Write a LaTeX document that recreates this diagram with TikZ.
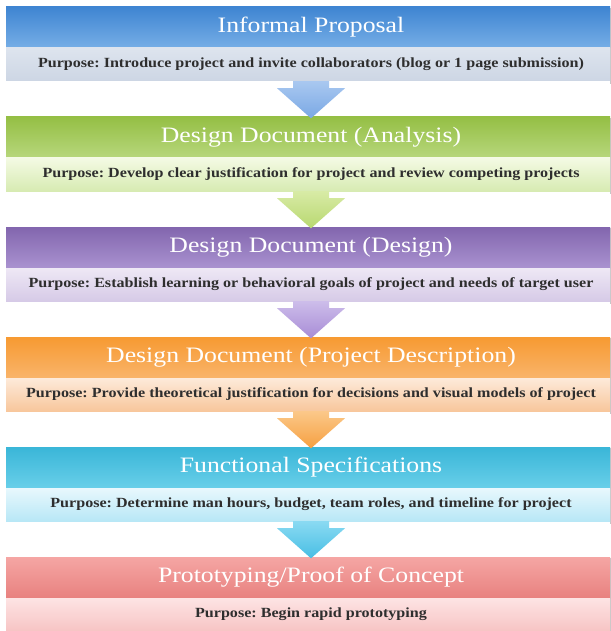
\documentclass[tikz,border=0pt]{standalone}
\usepackage{fontspec}
\setmainfont{Liberation Serif}
\newfontfamily\titlefont[FakeStretch=1.17]{Liberation Serif}
\newfontfamily\purpfont[FakeStretch=1.15]{Liberation Serif}
\usetikzlibrary{calc,backgrounds}
\frenchspacing

\definecolor{bluetop}{HTML}{3F85D2}\definecolor{bluebot}{HTML}{76AEE6}
\definecolor{bluept}{HTML}{DDE4EE}\definecolor{bluepb}{HTML}{CDD6E4}
\definecolor{blueat}{HTML}{A9C8F0}\definecolor{blueab}{HTML}{7AA8E4}
\definecolor{grntop}{HTML}{95BF45}\definecolor{grnbot}{HTML}{B7D77C}
\definecolor{grnpt}{HTML}{F4FAE4}\definecolor{grnpb}{HTML}{D7EBB2}
\definecolor{grnat}{HTML}{D8EBA6}\definecolor{grnab}{HTML}{B8D870}
\definecolor{purtop}{HTML}{8266AE}\definecolor{purbot}{HTML}{AA92D0}
\definecolor{purpt}{HTML}{EEE8F5}\definecolor{purpb}{HTML}{D6CAE7}
\definecolor{purat}{HTML}{CDBDEA}\definecolor{purab}{HTML}{A88CD6}
\definecolor{orgtop}{HTML}{F79A32}\definecolor{orgbot}{HTML}{F9B46A}
\definecolor{orgpt}{HTML}{FDEADA}\definecolor{orgpb}{HTML}{F8C79C}
\definecolor{orgat}{HTML}{FBC88A}\definecolor{orgab}{HTML}{F6A040}
\definecolor{cyntop}{HTML}{3AB6D8}\definecolor{cynbot}{HTML}{68CFE9}
\definecolor{cynpt}{HTML}{E8F8FD}\definecolor{cynpb}{HTML}{B8E7F6}
\definecolor{cynat}{HTML}{8ADAF2}\definecolor{cynab}{HTML}{48BEE4}
\definecolor{redtop}{HTML}{F5A6A4}\definecolor{redbot}{HTML}{E8817F}
\definecolor{redpt}{HTML}{FDE4E4}\definecolor{redpb}{HTML}{F7C4C4}
\definecolor{purptext}{HTML}{2E2E2E}

\tikzset{
  hdr/.style={minimum width=610pt, minimum height=41pt, inner sep=0pt,
    text=white, font=\titlefont\fontsize{22}{26}\selectfont},
  purp/.style={minimum width=610pt, minimum height=33pt, inner sep=0pt,
    text=purptext, font=\purpfont\bfseries\fontsize{14}{16}\selectfont},
  boxshadow/.style={fill=black, opacity=0.22},
}

\newcommand{\stagebox}[8]{% name, y top, title, purpose, hdr top, hdr bot, p top, p bot
  \node[hdr, top color=#5, bottom color=#6] (h#1) at (311,#2+20.5) {\raisebox{-2pt}{#3}};
  \node[purp, top color=#7, bottom color=#8] (p#1) at (311,#2+57.5) {#4};
  \begin{scope}[on background layer]
    \fill[boxshadow] ($(h#1.north west)+(-1.2,1.5)$) rectangle ($(p#1.south east)+(-1.2,2.5)$);
  \end{scope}
}
\newcommand{\flowarrow}[4]{% from, to, top colour, bottom colour
  \shade[top color=#3, bottom color=#4]
    ($(p#1.south)+(-18,0)$) -- ($(p#1.south)+(-18,7)$) -- ($(p#1.south)+(-34,7)$)
    -- ($(h#2.north)+(0,1.5)$) -- ($(p#1.south)+(34,7)$) -- ($(p#1.south)+(18,7)$)
    -- ($(p#1.south)+(18,0)$) -- cycle;
}

\begin{document}
\begin{tikzpicture}[x=1pt,y=-1pt]
\useasboundingbox (0,0) rectangle (610,631);
\fill[white] (0,0) rectangle (610,631);
\clip (0,0) rectangle (610,631);

\stagebox{1}{7}{Informal Proposal}{Purpose: Introduce project and invite collaborators (blog or 1 page submission)}{bluetop}{bluebot}{bluept}{bluepb}
\stagebox{2}{117}{Design Document (Analysis)}{Purpose: Develop clear justification for project and review competing projects}{grntop}{grnbot}{grnpt}{grnpb}
\stagebox{3}{227}{Design Document (Design)}{Purpose: Establish learning or behavioral goals of project and needs of target user}{purtop}{purbot}{purpt}{purpb}
\stagebox{4}{337}{Design Document (Project Description)}{Purpose: Provide theoretical justification for decisions and visual models of project}{orgtop}{orgbot}{orgpt}{orgpb}
\stagebox{5}{447}{Functional Specifications}{Purpose: Determine man hours, budget, team roles, and timeline for project}{cyntop}{cynbot}{cynpt}{cynpb}
\stagebox{6}{557}{Prototyping/Proof of Concept}{Purpose: Begin rapid prototyping}{redtop}{redbot}{redpt}{redpb}

\flowarrow{1}{2}{blueat}{blueab}
\flowarrow{2}{3}{grnat}{grnab}
\flowarrow{3}{4}{purat}{purab}
\flowarrow{4}{5}{orgat}{orgab}
\flowarrow{5}{6}{cynat}{cynab}
\end{tikzpicture}
\end{document}
